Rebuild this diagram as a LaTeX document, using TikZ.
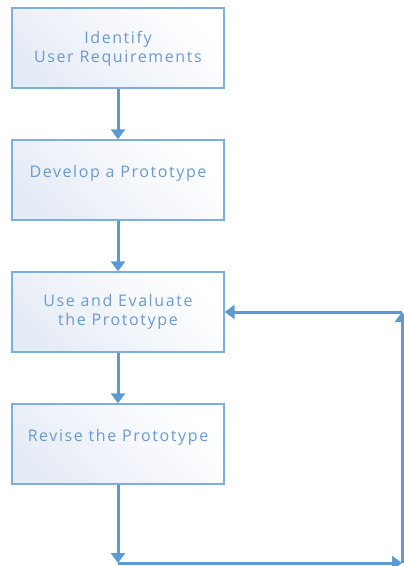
\documentclass[tikz,border=0pt]{standalone}
\usepackage{fontspec}
\setmainfont{Open Sans}[LetterSpace=10]
\usetikzlibrary{arrows.meta,shadings}
\definecolor{boxline}{HTML}{7FAEDC}
\definecolor{txt}{HTML}{6A9AD0}
\definecolor{arr}{HTML}{5B9BD5}
\definecolor{fillA}{HTML}{E6ECF6}
\tikzset{
  stepbox/.style={draw=boxline, line width=1.4pt, minimum width=212pt, minimum height=80pt,
    left color=fillA, right color=white, shading angle=135},
  steptext/.style={text=txt, font=\fontsize{16}{19.5}\selectfont, align=center, inner sep=0pt},
  flow/.style={draw=arr, line width=3pt, -{Triangle[length=10pt,width=14pt]}}
}
\begin{document}
\begin{tikzpicture}[x=1pt,y=-1pt]
\useasboundingbox (0,0) rectangle (404,566);
\node[stepbox] (a) at (118,48) {};
\node[stepbox] (b) at (118,180) {};
\node[stepbox] (c) at (118,312) {};
\node[stepbox] (d) at (118,444) {};
\node[steptext] (ta) at (118,49) {Identify\\User Requirements};
\node[steptext] (tb) at (118,173) {Develop a Prototype};
\node[steptext] (tc) at (118,312) {Use and Evaluate\\the Prototype};
\node[steptext] (td) at (118,437) {Revise the Prototype};
\coordinate (bl) at (118,563);
\coordinate (br) at (402,563);
\coordinate (tr) at (402,312);
\draw[flow] (a) -- (b);
\draw[flow] (b) -- (c);
\draw[flow] (c) -- (d);
\draw[flow] (d) -- (bl);
\draw[flow] (bl) -- (br);
\draw[flow] (br) -- (tr);
\draw[flow] (tr) -- (c.east);
\end{tikzpicture}
\end{document}
